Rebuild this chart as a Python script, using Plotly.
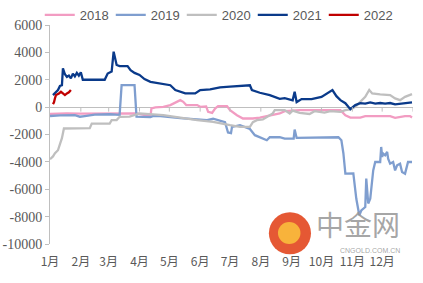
import plotly.graph_objects as go

YEAR = "2021"

# ---- data (month-day, value) ----
d2018 = ["01-01","01-18","01-31","02-20","03-12","03-29","04-12","04-13","04-17","04-25","05-02","05-08","05-12","05-15","05-18","05-29","06-01","06-07","06-09","06-13","06-16","06-19","06-28","07-01","07-08","07-14","07-24","07-31","08-10","08-20","08-25","09-09","10-20","10-25","10-30","11-09","11-14","12-09","12-14","12-24","12-29","12-31"]
v2018 = [-500,-450,-470,-480,-500,-460,-660,-100,-20,20,150,390,510,390,150,150,20,50,-340,-420,-100,70,70,-220,-590,-830,-830,-760,-590,-460,-290,-220,-220,-590,-760,-760,-660,-660,-780,-660,-660,-760]

d2019 = ["01-01","01-11","01-26","01-31","02-05","02-15","03-02","03-12","03-14","03-27","03-29","04-12","04-15","04-22","05-12","06-01","06-08","06-14","06-26","06-29","07-02","07-03","07-11","07-21","07-26","08-07","08-10","08-20","08-25","09-03","09-04","09-06","09-29","10-18","10-21","10-23","10-25","11-02","11-05","11-08","11-10","11-14","11-15","11-17","11-19","11-20","11-22","11-24","11-29","11-30","12-01","12-02","12-04","12-06","12-07","12-09","12-12","12-14","12-16","12-19","12-21","12-24","12-26","12-27","12-31"]
v2019 = [-650,-600,-590,-700,-650,-550,-520,-560,1610,1610,-700,-720,-650,-660,-800,-900,-950,-850,-1100,-1850,-1900,-1440,-1320,-1600,-2050,-2420,-2200,-2200,-2300,-2300,-1640,-2250,-2200,-2200,-2420,-3370,-4860,-4840,-6700,-7900,-7550,-7300,-5220,-7040,-6700,-5840,-4620,-4010,-4010,-2910,-3640,-3390,-3520,-3270,-3760,-4130,-4010,-4620,-4250,-4130,-4740,-4860,-4370,-4010,-4010]

d2020 = ["01-01","01-04","01-06","01-09","01-11","01-13","01-15","02-10","02-12","03-02","03-04","03-09","03-12","03-22","04-01","04-25","05-29","06-14","07-01","07-11","07-21","07-24","07-28","08-03","08-10","08-13","08-15","08-25","08-30","09-02","09-09","09-19","09-24","10-04","10-10","10-20","10-25","10-30","11-04","11-09","11-14","11-18","11-21","11-29","12-09","12-14","12-19","12-24","12-29","12-31"]
v2020 = [-3810,-3600,-3370,-3150,-2700,-2270,-1560,-1540,-1200,-1200,-950,-950,-710,-700,-460,-590,-950,-1070,-1320,-1440,-1440,-1100,-950,-900,-600,-460,-220,-220,-460,-250,-420,-500,-300,-400,-290,-340,-220,-170,20,390,750,1250,1000,930,880,640,510,750,930,950]

d2021 = ["01-04","01-07","01-09","01-11","01-13","01-14","01-16","01-18","01-20","01-22","01-24","01-26","01-28","01-30","02-01","02-03","02-25","02-28","03-04","03-06","03-09","03-12","03-20","03-23","03-27","04-01","04-06","04-12","04-17","04-22","04-27","05-02","05-07","05-12","05-17","05-27","06-01","06-11","06-21","07-01","07-11","07-21","07-23","07-31","08-10","08-20","08-25","09-02","09-04","09-06","09-11","09-21","10-01","10-04","10-12","10-16","10-20","10-25","10-30","11-04","11-09","11-14","11-19","11-24","11-29","12-04","12-09","12-14","12-19","12-24","12-29","12-31"]
v2021 = [880,1100,1250,1550,1600,2840,2400,2200,2300,2100,2450,2250,2500,2300,2550,2000,2000,2450,2600,4050,3080,3000,3000,2700,2500,2350,2050,1850,1800,1750,1650,1600,1250,1100,1000,1000,1250,1300,1450,1500,1550,1600,1250,1050,880,600,650,500,1120,370,590,590,750,880,1250,800,510,290,-150,150,290,250,350,250,300,250,300,200,250,300,370,340]

d2022 = ["01-04","01-05","01-06","01-07","01-10","01-12","01-14","01-16","01-18","01-20","01-22"]
v2022 = [220,350,650,880,1000,1120,1000,880,1000,1080,1250]

series_names = ["2018", "2019", "2020", "2021", "2022"]
series_dates = [d2018, d2019, d2020, d2021, d2022]
series_vals = [v2018, v2019, v2020, v2021, v2022]
colors = ["#F29CC2", "#7F9ECF", "#BFBFBF", "#0A3A8A", "#C00000"]

month_ticks = [f"{m:02d}-01" for m in range(1, 13)]
month_labels = [f"{m}月" for m in range(1, 13)]
y_ticks = [6000, 4000, 2000, 0, -2000, -4000, -6000, -8000, -10000]
y_labels = [str(v) for v in y_ticks]

fig = go.Figure()
for name, ds, vs, c in zip(series_names, series_dates, series_vals, colors):
    fig.add_trace(go.Scatter(
        x=[f"{YEAR}-{d}" for d in ds], y=vs, name=name, mode="lines",
        line=dict(color=c, width=2.3)))

axis_grey = "#BFBFBF"
text_grey = "#595959"

# tick marks along the horizontal axis at value 0
tick_dates = [f"{YEAR}-{d}" for d in month_ticks] + ["2022-01-01"]
shapes = [dict(type="line", xref="x", yref="y", x0=t, x1=t, y0=0, y1=-330,
               line=dict(color=axis_grey, width=1)) for t in tick_dates[1:]]

# watermark logo
shapes.append(dict(type="circle", xref="paper", yref="paper",
                   x0=0.603, x1=0.719, y0=-0.047, y1=0.145,
                   fillcolor="rgba(226,70,30,0.9)", line=dict(width=0), layer="above"))
shapes.append(dict(type="circle", xref="paper", yref="paper",
                   x0=0.628, x1=0.690, y0=0.0, y1=0.10,
                   fillcolor="rgba(250,190,60,0.9)", line=dict(width=0), layer="above"))

fig.update_layout(
    width=423, height=283,
    margin=dict(l=50, r=10, t=25, b=39, autoexpand=False),
    paper_bgcolor="white", plot_bgcolor="white",
    showlegend=True,
    legend=dict(orientation="h", xref="container", x=0.094, xanchor="left",
                yref="container", y=1.0, yanchor="top",
                font=dict(family="Liberation Sans", size=13, color=text_grey),
                bgcolor="rgba(0,0,0,0)", entrywidth=26, tracegroupgap=0),
    xaxis=dict(range=[f"{YEAR}-01-01", "2022-01-01"], tickvals=[f"{YEAR}-{d}" for d in month_ticks],
               ticktext=month_labels, showgrid=False, zeroline=False, showline=False,
               ticks="outside", ticklen=7, tickcolor="rgba(0,0,0,0)",
               tickfont=dict(family="Noto Sans CJK SC", size=12, color=text_grey)),
    yaxis=dict(range=[-10000, 6000], tickvals=y_ticks, ticktext=y_labels,
               showgrid=False, zeroline=True, zerolinecolor=axis_grey, zerolinewidth=1,
               showline=True, linecolor=axis_grey, linewidth=1,
               ticks="outside", ticklen=4, tickcolor=axis_grey,
               tickfont=dict(family="Liberation Serif", size=14, color=text_grey)),
    shapes=shapes,
    annotations=[
        dict(xref="paper", yref="paper", x=0.97, y=0.09, xanchor="right", yanchor="middle",
             text="中金网", showarrow=False,
             font=dict(family="Noto Sans CJK SC", size=28, color="rgba(150,150,150,0.85)")),
        dict(xref="paper", yref="paper", x=0.97, y=-0.03, xanchor="right", yanchor="middle",
             text="CNGOLD.COM.CN", showarrow=False,
             font=dict(family="Liberation Sans", size=7, color="rgba(150,150,150,0.85)")),
    ],
)

fig.write_html("out.html")
